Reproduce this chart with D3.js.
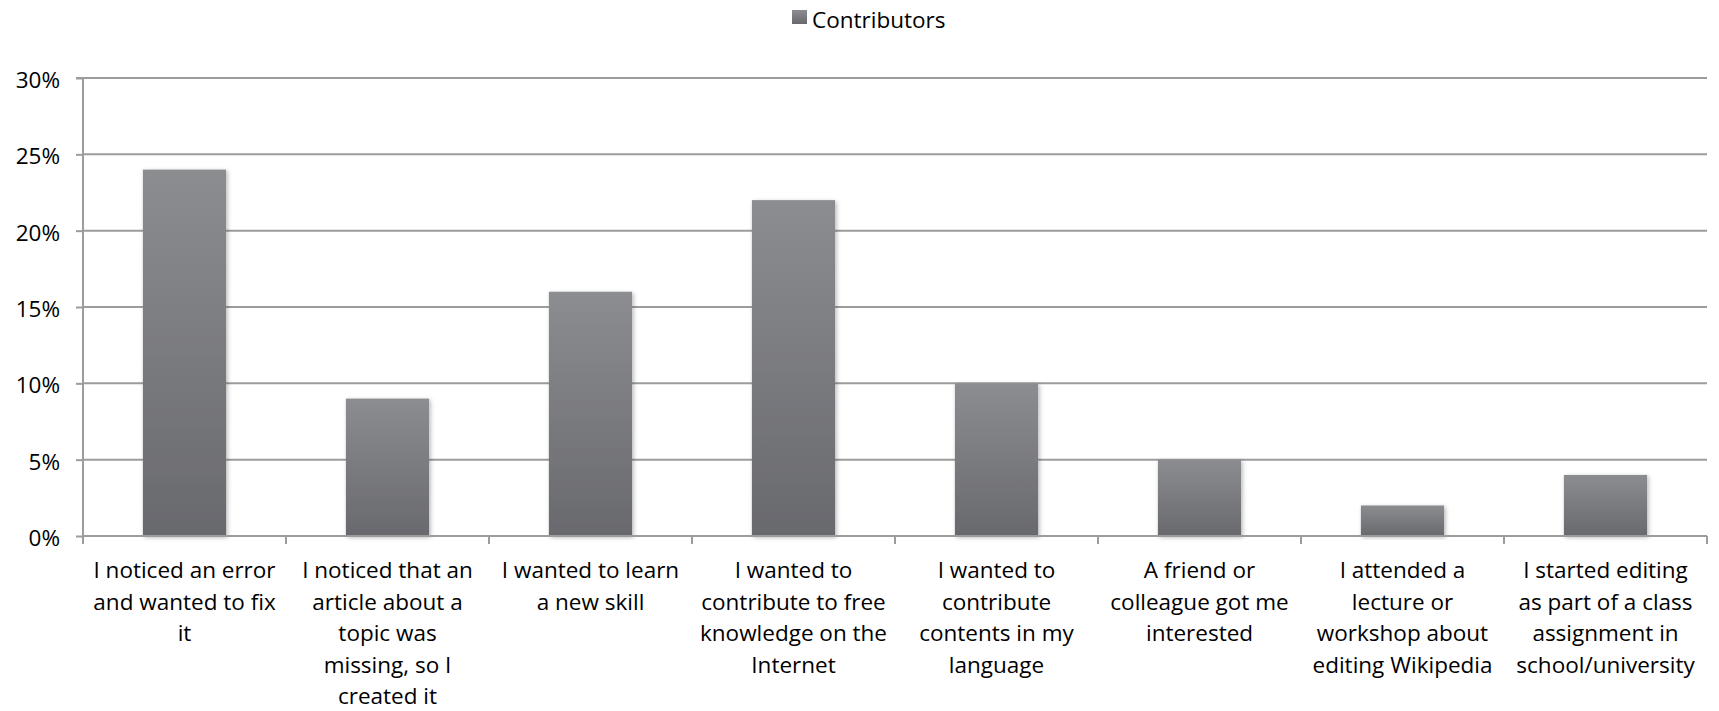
<!DOCTYPE html>
<html>
<head>
<meta charset="utf-8">
<script src="https://cdn.jsdelivr.net/npm/d3@7"></script>
<style>
  html, body { margin: 0; padding: 0; background: #fff; }
  svg { display: block; }
  text { font-family: "Open Sans", "DejaVu Sans", sans-serif; fill: #000; }
</style>
</head>
<body>
<svg id="chart" width="1719" height="711"></svg>
<script>
const categories = [
  "I noticed an error\nand wanted to fix\nit",
  "I noticed that an\narticle about a\ntopic was\nmissing, so I\ncreated it",
  "I wanted to learn\na new skill",
  "I wanted to\ncontribute to free\nknowledge on the\nInternet",
  "I wanted to\ncontribute\ncontents in my\nlanguage",
  "A friend or\ncolleague got me\ninterested",
  "I attended a\nlecture or\nworkshop about\nediting Wikipedia",
  "I started editing\nas part of a class\nassignment in\nschool/university"
];
const contributors = [24, 9, 16, 22, 10, 5, 2, 4];
const yTicks = [0, 5, 10, 15, 20, 25, 30];
const seriesName = "Contributors";

const W = 1719, H = 711;
const margin = { top: 78, right: 12, bottom: 175, left: 83 };
const svg = d3.select("#chart");

const defs = svg.append("defs");
const grad = defs.append("linearGradient")
  .attr("id", "barGrad").attr("x1", 0).attr("y1", 0).attr("x2", 0).attr("y2", 1);
grad.append("stop").attr("offset", "0%").attr("stop-color", "#8c8d91");
grad.append("stop").attr("offset", "100%").attr("stop-color", "#68696d");
const f = defs.append("filter").attr("id", "shadow")
  .attr("x", "-20%").attr("y", "-5%").attr("width", "140%").attr("height", "115%");
f.append("feDropShadow").attr("dx", 1.5).attr("dy", 1.5).attr("stdDeviation", 2)
  .attr("flood-color", "#000").attr("flood-opacity", 0.28);

const x = d3.scaleBand().domain(categories).range([margin.left, W - margin.right]).padding(0);
const y = d3.scaleLinear().domain([0, 30]).range([H - margin.bottom, margin.top]);

// gridlines
svg.append("g")
  .selectAll("line").data(yTicks.filter(d => d > 0)).join("line")
  .attr("x1", margin.left).attr("x2", W - margin.right)
  .attr("y1", d => y(d)).attr("y2", d => y(d))
  .attr("stroke", "#9c9c9c").attr("stroke-width", 2);

// bars
const barFrac = 0.41;
svg.append("g")
  .selectAll("rect").data(contributors).join("rect")
  .attr("x", (d, i) => x(categories[i]) + x.bandwidth() * (1 - barFrac) / 2)
  .attr("width", x.bandwidth() * barFrac)
  .attr("y", d => y(d))
  .attr("height", d => y(0) - y(d))
  .attr("fill", "url(#barGrad)")
  .attr("filter", "url(#shadow)");

// y axis
const yAxis = svg.append("g")
  .attr("transform", `translate(${margin.left},0)`)
  .call(d3.axisLeft(y).tickValues(yTicks).tickFormat(d => d + "%").tickSize(7).tickPadding(16));
yAxis.selectAll("path, line").attr("stroke", "#9c9c9c").attr("stroke-width", 2);
yAxis.select(".domain").attr("d", `M-7,${y(30)}H0V${y(0) + 8}`);
yAxis.selectAll("text").attr("font-size", "22.5px").attr("fill", "#000")
  .attr("font-family", "'Open Sans', sans-serif").attr("dy", "0.42em");

// x axis
const xAxis = svg.append("g")
  .attr("transform", `translate(0,${y(0)})`)
  .call(d3.axisBottom(x).tickSize(0).tickFormat(""));
xAxis.select(".domain").attr("stroke", "#9c9c9c").attr("stroke-width", 2)
  .attr("d", `M${margin.left},0H${W - margin.right}`);
xAxis.selectAll(".tick").remove();
const bounds = categories.map(c => x(c)).concat([x(categories[categories.length - 1]) + x.bandwidth()]);
xAxis.selectAll("line.sep").data(bounds).join("line").attr("class", "sep")
  .attr("x1", d => d).attr("x2", d => d).attr("y1", 0).attr("y2", 8)
  .attr("stroke", "#9c9c9c").attr("stroke-width", 2);

// x labels
const lab = svg.append("g").selectAll("text").data(categories).join("text")
  .attr("text-anchor", "middle")
  .attr("font-size", "22.5px")
  .attr("transform", d => `translate(${x(d) + x.bandwidth() / 2},${y(0) + 42})`);
lab.selectAll("tspan").data(d => d.split("\n")).join("tspan")
  .attr("x", 0).attr("y", (d, i) => i * 31.5).text(d => d);

// legend
const leg = svg.append("g");
leg.append("rect").attr("x", 792).attr("y", 10).attr("width", 15).attr("height", 14)
  .attr("fill", "url(#barGrad)");
leg.append("text").attr("x", 812).attr("y", 28).attr("font-size", "22.5px").text(seriesName);
</script>
</body>
</html>
